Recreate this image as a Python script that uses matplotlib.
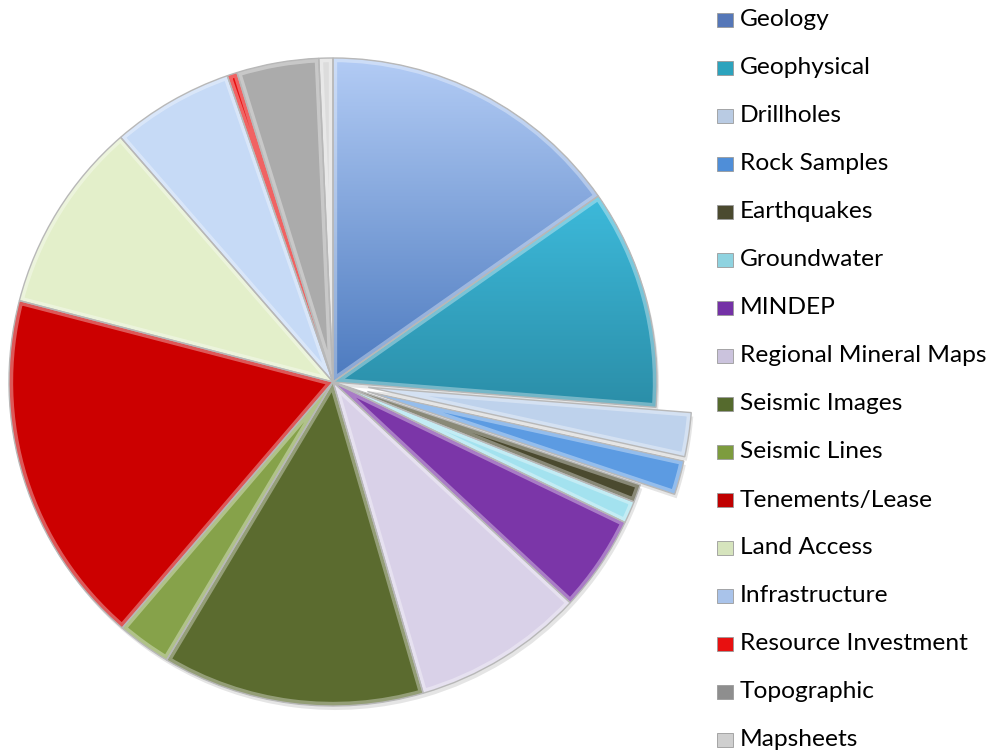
import numpy as np
import matplotlib
matplotlib.use("Agg")
import matplotlib.pyplot as plt
from matplotlib.colors import LinearSegmentedColormap
from matplotlib.patches import Rectangle, Wedge

# ---------------- data ----------------
categories = ["Geology", "Geophysical", "Drillholes", "Rock Samples", "Earthquakes",
              "Groundwater", "MINDEP", "Regional Mineral Maps", "Seismic Images",
              "Seismic Lines", "Tenements/Lease", "Land Access", "Infrastructure",
              "Resource Investment", "Topographic", "Mapsheets"]
shares = [15.3, 11.0, 2.2, 1.7, 0.9, 1.1, 4.8, 8.6, 13.1, 2.7, 17.8, 9.6, 6.1, 0.5, 4.1, 0.7]
exploded = ["Drillholes", "Rock Samples"]

# ---------------- styles ----------------
colors = ["#7fa2dc", "#34a7c6", "#bed2ec", "#5c9be2", "#4b4a2f", "#a3e2ef",
          "#7b36a8", "#d9d1e8", "#5b6b2f", "#86a24a", "#cc0000", "#e3efca",
          "#c6daf6", "#e81010", "#ababab", "#dcdcdc"]
legend_colors = ["#5577b8", "#2ca3bd", "#b9cbe3", "#4f8ed8", "#4b4a2f", "#8fd3e0",
                 "#7431a6", "#cbc3dd", "#556a2d", "#7d9c3e", "#c00000", "#d6e4bd",
                 "#a9c3ea", "#e81010", "#8e8e8e", "#cfcfcf"]
gradients = {"Geology": ("#b3ccf5", "#4c7abf"),
             "Geophysical": ("#3dbadb", "#2b8ea8")}

W, H = 991, 754
fig = plt.figure(figsize=(W / 100, H / 100), dpi=100)
ax = fig.add_axes([0, 0, 1, 1])
cx, cy, R = 333, H - 382, 324

# matplotlib's explode is an absolute offset in data units
explode = [0.11 * R if c in exploded else 0.0 for c in categories]
wedges, _ = ax.pie(shares, startangle=90, counterclock=False, colors=colors,
                   center=(cx, cy), radius=R, explode=explode,
                   wedgeprops=dict(edgecolor="none", linewidth=0, zorder=2))

for name, w in zip(categories, wedges):
    # soft drop shadow
    sh = Wedge((w.center[0] + 2, w.center[1] - 4), w.r, w.theta1, w.theta2,
               facecolor="#000000", alpha=0.10, edgecolor="none", zorder=1)
    ax.add_patch(sh)
    if name in gradients:
        top, bot = gradients[name]
        ext = w.get_path().get_extents()
        cmap = LinearSegmentedColormap.from_list("g_" + name, [bot, top])
        grad = np.linspace(1, 0, 256).reshape(-1, 1)
        im = ax.imshow(grad, extent=(ext.x0, ext.x1, ext.y0, ext.y1), origin="upper",
                       cmap=cmap, vmin=0, vmax=1, aspect="auto",
                       interpolation="bilinear", zorder=2.5)
        im.set_clip_path(w)
    # inner bevel highlight
    bev = Wedge(w.center, w.r, w.theta1, w.theta2, facecolor="none",
                edgecolor="white", alpha=0.35, linewidth=6, zorder=3)
    ax.add_patch(bev)
    bev.set_clip_path(w)
    # thin separating edge
    edge = Wedge(w.center, w.r, w.theta1, w.theta2, facecolor="none",
                 edgecolor="#b8b8b8", linewidth=1.0, zorder=4)
    ax.add_patch(edge)

# ---------------- legend (manual) ----------------
fig.canvas.draw()
renderer = fig.canvas.get_renderer()
probe = ax.text(0, 0, "Regional Mineral Maps", fontsize=16, family=["Lato", "DejaVu Sans"])
wpx = probe.get_window_extent(renderer).width
probe.remove()
fs = 16 * 247.0 / wpx

row0, step = 20.0, 48.0
for i, (lab, col) in enumerate(zip(categories, legend_colors)):
    yc = H - (row0 + i * step)
    ax.add_patch(Rectangle((717, yc - 7), 16, 14, facecolor=col,
                           edgecolor="#9a9a9a", linewidth=0.6, zorder=5))
    ax.text(740, yc - 6.5, lab, fontsize=fs, family=["Lato", "DejaVu Sans"],
            color="#000000", va="baseline", ha="left", zorder=5)

ax.set_xlim(0, W)
ax.set_ylim(0, H)
ax.set_aspect("auto")
ax.axis("off")
fig.savefig("out.png", dpi=100, facecolor="white")
